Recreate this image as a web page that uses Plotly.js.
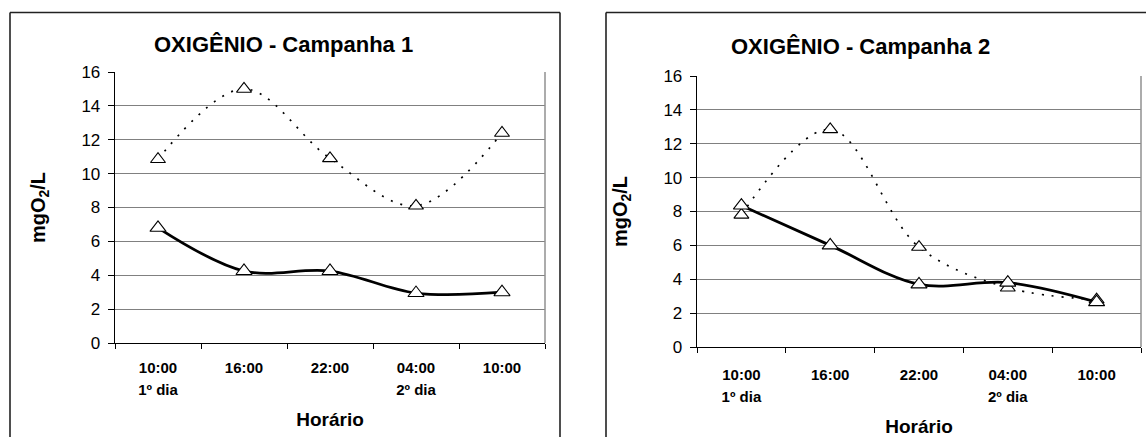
<!DOCTYPE html>
<html>
<head>
<meta charset="utf-8">
<script src="https://cdn.plot.ly/plotly-3.0.1.min.js"></script>
<style>html,body{margin:0;padding:0;background:#fff;}#chart{width:1146px;height:437px;}</style>
</head>
<body>
<div id="chart"></div>
<script>
// ---- data ----
const positions = [0, 1, 2, 3, 4];
const timeLabels = ['10:00', '16:00', '22:00', '04:00', '10:00'];
const dayPositions = [0, 3];
const dayLabels = ['1º dia', '2º dia'];
const boundaries = [-0.5, 0.5, 1.5, 2.5, 3.5, 4.5];
const yTicks = [0, 2, 4, 6, 8, 10, 12, 14, 16];

const c1Dotted = [10.85, 15.0, 10.9, 8.1, 12.4];
const c1Solid = [6.8, 4.25, 4.25, 2.95, 3.0];
const c2Dotted = [7.8, 12.85, 5.9, 3.5, 2.8];
const c2Solid = [8.35, 6.0, 3.7, 3.8, 2.65];

const titles = ['OXIGÊNIO - Campanha 1', 'OXIGÊNIO - Campanha 2'];
const yTitle = 'mgO<sub>2</sub>/L';
const xTitle = 'Horário';

// ---- layout helpers ----
const W = 1146, H = 437;
const px = v => v / W;
const py = v => 1 - v / H;
const FONT = 'Liberation Sans, Arial, sans-serif';

function solidTrace(y, xa, ya) {
  return {x: positions, y: y, xaxis: xa, yaxis: ya, type: 'scatter', mode: 'lines+markers',
    line: {color: '#000', width: 2.8, shape: 'spline', smoothing: 1},
    marker: {symbol: 'triangle-up', size: 14, color: '#fff', line: {color: '#000', width: 1.1}},
    showlegend: false, hoverinfo: 'skip'};
}
function dottedTrace(y, xa, ya) {
  return {x: positions, y: y, xaxis: xa, yaxis: ya, type: 'scatter', mode: 'lines+markers',
    line: {color: '#000', width: 1.7, shape: 'spline', smoothing: 1, dash: '2px,8px'},
    marker: {symbol: 'triangle-up', size: 13, color: '#fff', line: {color: '#000', width: 1.1}},
    showlegend: false, hoverinfo: 'skip'};
}
function dummy(xa, ya) {
  return {x: positions, y: positions.map(() => null), xaxis: xa, yaxis: ya, type: 'scatter',
    mode: 'markers', showlegend: false, hoverinfo: 'skip'};
}

const data = [
  dummy('x3', 'y'), dummy('x5', 'y'),
  dottedTrace(c1Dotted, 'x', 'y'), solidTrace(c1Solid, 'x', 'y'),
  dummy('x4', 'y2'), dummy('x6', 'y2'),
  dottedTrace(c2Dotted, 'x2', 'y2'), solidTrace(c2Solid, 'x2', 'y2')
];

function mainX(domain, anchor) {
  return {domain: domain, anchor: anchor, range: [-0.5, 4.5], fixedrange: true,
    tickmode: 'array', tickvals: boundaries, showticklabels: false,
    ticks: 'outside', ticklen: 5, tickcolor: '#000', tickwidth: 1,
    showline: true, linecolor: '#000', linewidth: 1.3, showgrid: false, zeroline: false};
}
function labelX(over, anchor, vals, texts, standoff, title) {
  const a = {overlaying: over, anchor: anchor, range: [-0.5, 4.5], fixedrange: true,
    tickmode: 'array', tickvals: vals, ticktext: texts, ticks: '',
    showline: false, showgrid: false, zeroline: false, side: 'bottom',
    ticklabelstandoff: standoff,
    tickfont: {family: FONT, size: 15, color: '#000', weight: 'bold'}};
  if (title) {
    a.title = {text: title, font: {family: FONT, size: 19, color: '#000', weight: 'bold'}, standoff: 15};
  }
  return a;
}
function yAx(domain, anchor) {
  return {domain: domain, anchor: anchor, range: [0, 16], fixedrange: true,
    tickmode: 'array', tickvals: yTicks,
    ticks: 'outside', ticklen: 6, tickcolor: '#000', tickwidth: 1, ticklabelstandoff: 4,
    tickfont: {family: FONT, size: 17, color: '#000'},
    showline: true, linecolor: '#000', linewidth: 1.3,
    showgrid: true, gridcolor: '#808080', gridwidth: 1, zeroline: false,
    title: {text: yTitle, font: {family: FONT, size: 20, color: '#000', weight: 'bold'}, standoff: 30}};
}

const layout = {
  width: W, height: H,
  margin: {l: 0, r: 0, t: 0, b: 0},
  paper_bgcolor: '#fff', plot_bgcolor: '#fff',
  font: {family: FONT, color: '#000'},
  xaxis: mainX([px(115), px(545)], 'y'),
  xaxis3: labelX('x', 'y', positions, timeLabels, 14, null),
  xaxis5: labelX('x', 'y', dayPositions, dayLabels, 36, xTitle),
  yaxis: yAx([py(343), py(72)], 'x'),
  xaxis2: mainX([px(697), px(1141)], 'y2'),
  xaxis4: labelX('x2', 'y2', positions, timeLabels, 17, null),
  xaxis6: labelX('x2', 'y2', dayPositions, dayLabels, 39, xTitle),
  yaxis2: yAx([py(347), py(76)], 'x2'),
  annotations: [
    {text: '<b>' + titles[0] + '</b>', xref: 'paper', yref: 'paper', x: px(283), y: py(44),
     xanchor: 'center', yanchor: 'middle', showarrow: false, font: {family: FONT, size: 22, color: '#000'}},
    {text: '<b>' + titles[1] + '</b>', xref: 'paper', yref: 'paper', x: px(860), y: py(47),
     xanchor: 'center', yanchor: 'middle', showarrow: false, font: {family: FONT, size: 22, color: '#000'}}
  ],
  shapes: [
    // outer chart frames
    {type: 'line', xref: 'paper', yref: 'paper', x0: px(10), x1: px(10), y0: py(12.5), y1: py(440), line: {color: '#222', width: 1.6}},
    {type: 'line', xref: 'paper', yref: 'paper', x0: px(10), x1: px(560), y0: py(12.5), y1: py(12.5), line: {color: '#222', width: 1.6}},
    {type: 'line', xref: 'paper', yref: 'paper', x0: px(560), x1: px(560), y0: py(12.5), y1: py(440), line: {color: '#222', width: 1.6}},
    {type: 'line', xref: 'paper', yref: 'paper', x0: px(606), x1: px(606), y0: py(12.5), y1: py(440), line: {color: '#222', width: 1.6}},
    {type: 'line', xref: 'paper', yref: 'paper', x0: px(606), x1: px(1150), y0: py(12.5), y1: py(12.5), line: {color: '#222', width: 1.6}},
    // plot area right borders
    {type: 'line', xref: 'paper', yref: 'paper', x0: px(545), x1: px(545), y0: py(72), y1: py(343), line: {color: '#909090', width: 1.5}},
    {type: 'line', xref: 'paper', yref: 'paper', x0: px(1141), x1: px(1141), y0: py(76), y1: py(347), line: {color: '#909090', width: 1.5}}
  ]
};

Plotly.newPlot('chart', data, layout, {staticPlot: true, displayModeBar: false});
</script>
</body>
</html>
